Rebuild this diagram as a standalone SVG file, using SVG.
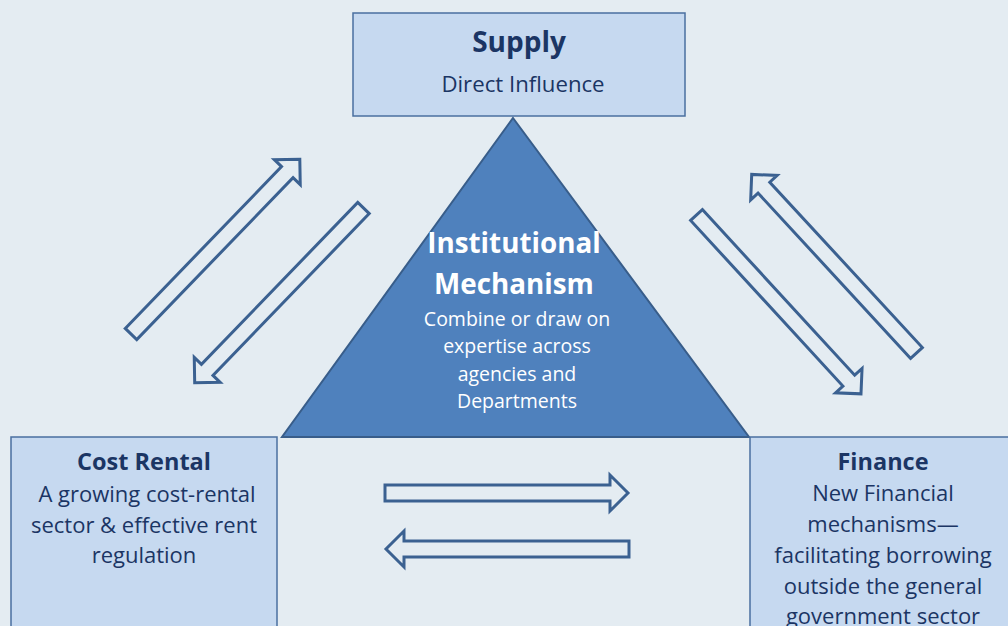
<svg xmlns="http://www.w3.org/2000/svg" width="1008" height="626" viewBox="0 0 1008 626">
<defs>
<style>
.box{fill:#c6d9f0;stroke:#4a6fa0;stroke-width:1.5}
.tri{fill:#4f81bd;stroke:#385d8a;stroke-width:2}
.arr{fill:#e4ecf2;stroke:#3b6191;stroke-width:3;stroke-linejoin:miter}
.t{font-family:"Open Sans","Liberation Sans",sans-serif;fill:#1b3564;text-anchor:middle}
.h{font-weight:bold}
.w{fill:#ffffff}
</style>
<polygon id="arrowShape" class="arr" points="0,-8 225,-8 225,-18 243,0 225,18 225,8 0,8"/>
</defs>
<rect width="1008" height="626" fill="#e4ecf2"/>
<g id="mechanism">
<polygon class="tri" points="513,118 749,437 282,437"/>
<text class="t h w" x="514" y="253" font-size="27.8">Institutional</text>
<text class="t h w" x="514" y="294" font-size="27.8">Mechanism</text>
<text class="t w" x="517" y="326" font-size="19.5">Combine or draw on</text>
<text class="t w" x="517" y="353" font-size="19.5">expertise across</text>
<text class="t w" x="517" y="381" font-size="19.5">agencies and</text>
<text class="t w" x="517" y="408" font-size="19.5">Departments</text>
</g>
<g id="supply">
<rect class="box" x="353" y="13" width="332" height="103"/>
<text class="t h" x="519" y="52" font-size="28">Supply</text>
<text class="t" x="523" y="92" font-size="22.2">Direct Influence</text>
</g>
<g id="cost-rental">
<rect class="box" x="11" y="437" width="266" height="200"/>
<text class="t h" x="144" y="470" font-size="23.5">Cost Rental</text>
<text class="t" x="147" y="502" font-size="22">A growing cost-rental</text>
<text class="t" x="144" y="533" font-size="22">sector &amp; effective rent</text>
<text class="t" x="144" y="563" font-size="22">regulation</text>
</g>
<g id="finance">
<rect class="box" x="750" y="437" width="270" height="200"/>
<text class="t h" x="883" y="470" font-size="23.5">Finance</text>
<text class="t" x="883" y="501" font-size="22">New Financial</text>
<text class="t" x="883" y="532" font-size="22">mechanisms—</text>
<text class="t" x="883" y="563" font-size="22">facilitating borrowing</text>
<text class="t" x="883" y="594" font-size="22">outside the general</text>
<text class="t" x="883" y="624" font-size="22">government sector</text>
</g>
<g id="connectors">
<use href="#arrowShape" transform="translate(131,334) rotate(-46)"/>
<use href="#arrowShape" transform="translate(363.5,208) rotate(134)"/>
<use href="#arrowShape" transform="translate(916.5,353) rotate(-132.7)"/>
<use href="#arrowShape" transform="translate(696.5,215) rotate(47.4)"/>
<use href="#arrowShape" transform="translate(385,493)"/>
<use href="#arrowShape" transform="translate(629,549) rotate(180)"/>
</g>
</svg>
